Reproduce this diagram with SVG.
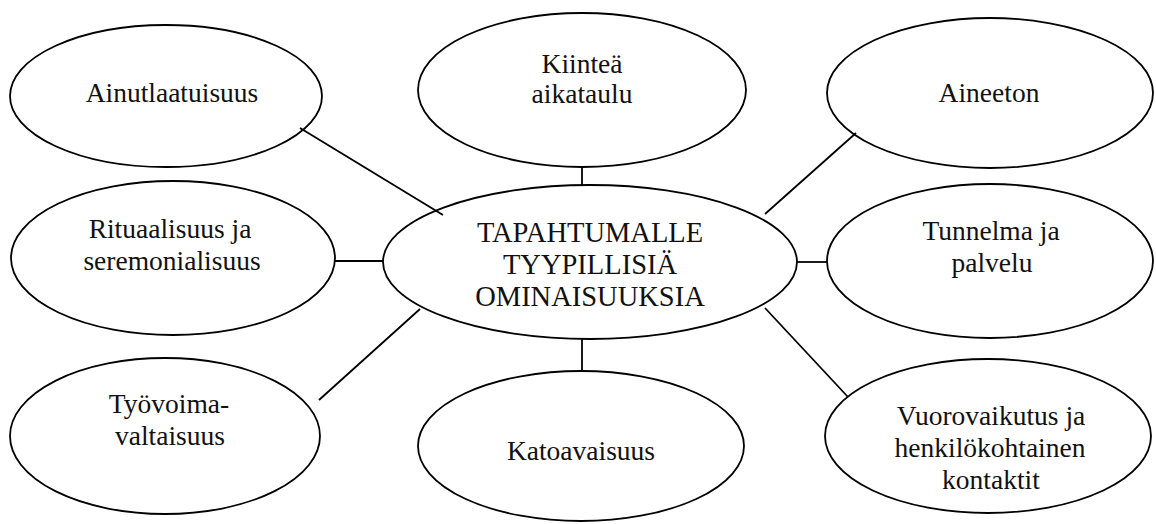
<svg xmlns="http://www.w3.org/2000/svg" width="1156" height="524" viewBox="0 0 1156 524" font-family="'Liberation Serif', 'Times New Roman', 'DejaVu Serif', serif">
  <style>
    .node ellipse { fill: #ffffff; stroke: #000000; stroke-width: 1.8; }
    .node text { font-family: 'Liberation Serif', 'Times New Roman', 'DejaVu Serif', serif; font-size: 27.5px; fill: #111111; text-anchor: middle; }
    .hub text { font-size: 28.5px; }
    #connectors line { stroke: #000000; stroke-width: 1.8; }
  </style>
  <rect width="1156" height="524" fill="#ffffff"/>

  <!-- outer characteristic nodes -->
  <g id="node-ainutlaatuisuus" class="node">
    <ellipse cx="166" cy="96" rx="156" ry="71"/>
    <text x="172" y="102">Ainutlaatuisuus</text>
  </g>
  <g id="node-kiintea-aikataulu" class="node">
    <ellipse cx="582" cy="90" rx="164" ry="77"/>
    <text x="582" y="73">Kiinteä</text>
    <text x="582" y="103">aikataulu</text>
  </g>
  <g id="node-aineeton" class="node">
    <ellipse cx="990" cy="93" rx="163" ry="75"/>
    <text x="989" y="102">Aineeton</text>
  </g>
  <g id="node-rituaalisuus" class="node">
    <ellipse cx="173" cy="258" rx="162" ry="77"/>
    <text x="170" y="238">Rituaalisuus ja</text>
    <text x="172" y="270">seremonialisuus</text>
  </g>
  <g id="node-tunnelma" class="node">
    <ellipse cx="990" cy="261" rx="163" ry="77"/>
    <text x="991" y="240">Tunnelma ja</text>
    <text x="992" y="272">palvelu</text>
  </g>
  <g id="node-tyovoima" class="node">
    <ellipse cx="165" cy="436" rx="155" ry="78"/>
    <text x="169" y="413">Työvoima-</text>
    <text x="170" y="445">valtaisuus</text>
  </g>
  <g id="node-katoavaisuus" class="node">
    <ellipse cx="581" cy="446" rx="163" ry="75"/>
    <text x="581" y="460">Katoavaisuus</text>
  </g>
  <g id="node-vuorovaikutus" class="node">
    <ellipse cx="988" cy="436" rx="163" ry="77"/>
    <text x="991" y="425">Vuorovaikutus ja</text>
    <text x="990" y="457">henkilökohtainen</text>
    <text x="991" y="489">kontaktit</text>
  </g>

  <!-- central node -->
  <g id="node-center" class="node hub">
    <ellipse cx="590" cy="262" rx="207" ry="77"/>
    <text x="590" y="242">TAPAHTUMALLE</text>
    <text x="590" y="274">TYYPILLISIÄ</text>
    <text x="590" y="306">OMINAISUUKSIA</text>
  </g>

  <!-- spokes from the centre to each characteristic -->
  <g id="connectors">
    <line x1="300" y1="128" x2="443" y2="215"/>
    <line x1="582" y1="167" x2="582" y2="185"/>
    <line x1="856" y1="133" x2="765" y2="214"/>
    <line x1="335" y1="261" x2="383" y2="261"/>
    <line x1="797" y1="262" x2="828" y2="262"/>
    <line x1="319" y1="400" x2="420" y2="309"/>
    <line x1="582" y1="339" x2="582" y2="371"/>
    <line x1="765" y1="308" x2="848" y2="397"/>
  </g>
</svg>
